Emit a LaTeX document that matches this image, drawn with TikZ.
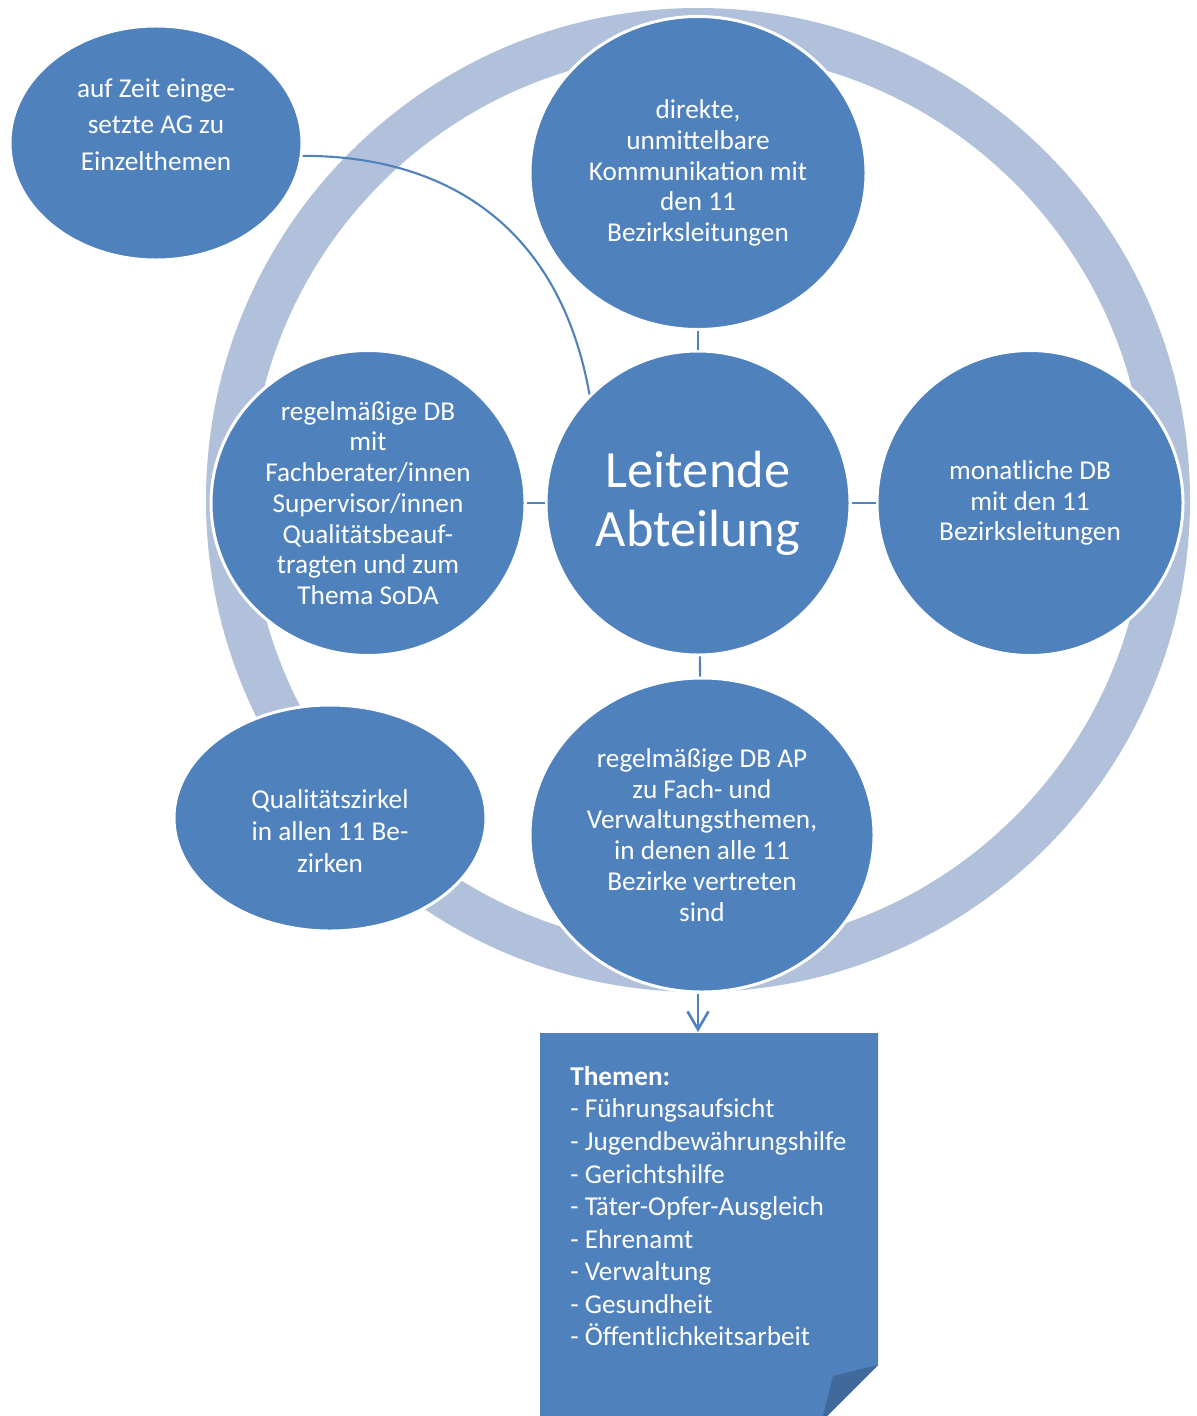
\documentclass[tikz,border=0pt]{standalone}
\usepackage{fontspec}
\setmainfont{Carlito}
\usetikzlibrary{calc,shapes.geometric,arrows.meta}

\definecolor{accent}{HTML}{4F81BD}
\definecolor{ringblue}{HTML}{B2C1DB}
\definecolor{flapblue}{HTML}{41699C}

\tikzset{
	bubble/.style={ellipse, fill=accent, draw=white, line width=1.7pt, inner sep=0pt},
	bubbletext/.style={text=white, align=center, inner sep=0pt, font=\fontsize{15.5}{17.5}\selectfont},
	link/.style={draw=accent, line width=1.2pt},
	ring/.style={draw=ringblue, line width=0.88cm}
}

\begin{document}
\begin{tikzpicture}
			\useasboundingbox (0,0) rectangle (23.94,-28.32);

			% outer ring
			\draw[ring] (13.96,-10.0) circle (9.40);

			% bubbles
			\node[bubble, minimum width=6.08cm, minimum height=6.08cm] (lead) at (13.96,-10.06) {};
			\node[bubble, minimum width=6.72cm, minimum height=6.26cm] (top) at (13.96,-3.46) {};
			\node[bubble, minimum width=6.12cm, minimum height=6.10cm] (right) at (20.60,-10.06) {};
			\node[bubble, minimum width=6.28cm, minimum height=6.10cm] (left) at (7.36,-10.06) {};
			\node[bubble, minimum width=6.88cm, minimum height=6.28cm] (bottom) at (14.04,-16.70) {};
			\node[bubble, minimum width=5.84cm, minimum height=4.68cm] (topleft) at (3.12,-2.86) {};
			\node[bubble, minimum width=6.24cm, minimum height=4.52cm] (botleft) at (6.60,-16.36) {};

			\node[bubbletext, font=\fontsize{29.8}{33.6}\selectfont] (lead-txt) at (lead) {Leitende\\Abteilung};
			\node[bubbletext] (top-txt) at (top) {direkte,\\unmittelbare\\Kommunikation mit\\den 11\\Bezirksleitungen};
			\node[bubbletext] (right-txt) at (right) {monatliche DB\\mit den 11\\Bezirksleitungen};
			\node[bubbletext] (left-txt) at (left) {regelmäßige DB\\mit\\Fachberater/innen\\Supervisor/innen\\Qualitätsbeauf-\\tragten und zum\\Thema SoDA};
			\node[bubbletext] (bottom-txt) at (bottom) {regelmäßige DB AP\\zu Fach- und\\Verwaltungsthemen,\\in denen alle 11\\Bezirke vertreten\\sind};
			\node[bubbletext, font=\fontsize{15.5}{20.8}\selectfont] (topleft-txt) at ($(topleft)+(0,0.37)$) {auf Zeit einge-\\setzte AG zu\\Einzelthemen};
			\node[bubbletext, font=\fontsize{15.5}{18.2}\selectfont] (botleft-txt) at ($(botleft)-(0,0.26)$) {Qualitätszirkel\\in allen 11 Be-\\zirken};

			% connectors
			\draw[link] (top)--(lead);
			\draw[link] (left)--(lead);
			\draw[link] (lead)--(right);
			\draw[link] (lead)--(bottom);
			\draw[link] (topleft.-5) to[out=0, in=100, looseness=1.08] (lead.135);

			% note with folded corner
			\fill[accent] (10.80,-20.66) -- (17.56,-20.66) -- (17.56,-27.30) -- (16.54,-28.32) -- (10.80,-28.32) -- cycle;
			\fill[flapblue] (17.56,-27.30) -- (16.66,-27.52) -- (16.46,-28.32) -- (16.54,-28.32) -- cycle;
			\coordinate (note-top) at (13.96,-20.64);
			\draw[link, line width=1.5pt, -{Straight Barb[length=0.36cm, width=0.42cm]}] (note-top |- bottom.south) -- (note-top);

			\node[anchor=north west, inner sep=0pt, text=white, align=left, font=\fontsize{15.5}{18.5}\selectfont] (themes) at (11.40,-21.32) {\textbf{Themen:}\\- Führungsaufsicht\\- Jugendbewährungshilfe\\- Gerichtshilfe\\- Täter-Opfer-Ausgleich\\- Ehrenamt\\- Verwaltung\\- Gesundheit\\- Öffentlichkeitsarbeit};
		\end{tikzpicture}
\end{document}
